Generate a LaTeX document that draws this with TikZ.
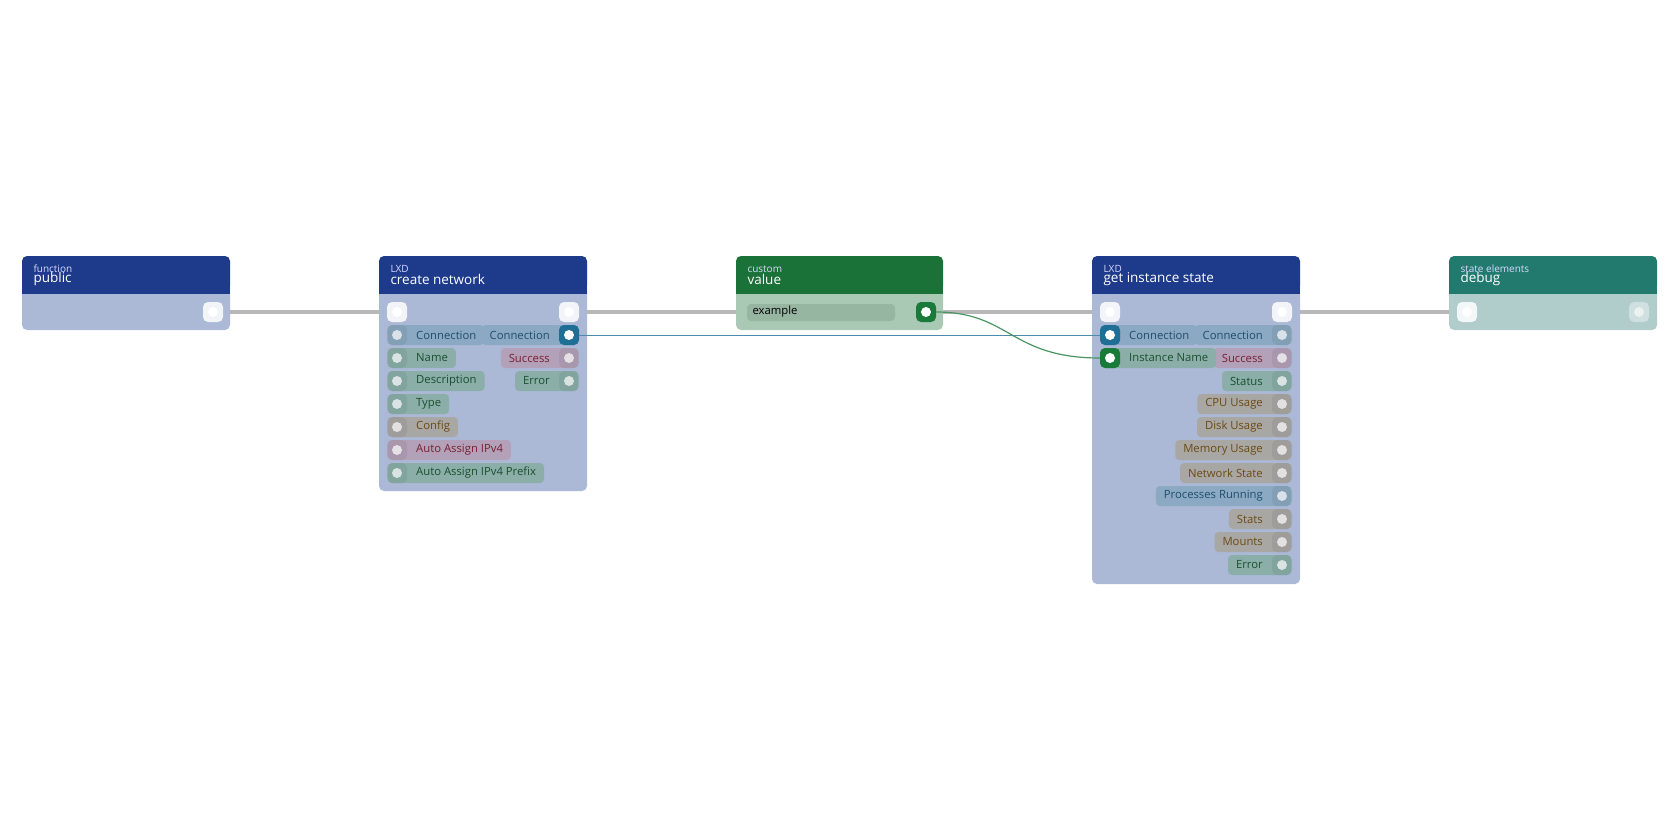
\documentclass[tikz,border=0pt]{standalone}
\usepackage{fontspec}
\setmainfont{Open Sans}
\usetikzlibrary{backgrounds}
\begin{document}
\begin{tikzpicture}[x=1pt,y=-1pt,
  pill/.style={rounded corners=4pt,minimum height=20pt,inner ysep=0pt,inner xsep=0pt,font=\fontsize{11.3}{13}\selectfont},
  port/.style={circle,fill=white,fill opacity=0.7,minimum size=10pt,inner sep=0pt},
  pbox/.style={rounded corners=5pt,minimum size=20pt,inner sep=0pt},
  wire/.style={line width=3.5pt,draw=black!28},
  ttl/.style={anchor=west,text=white,font=\fontsize{13.5}{14}\selectfont},
  sub/.style={anchor=west,text=white!85!blue,font=\fontsize{10}{11}\selectfont}]
\useasboundingbox (0,0) rectangle (1680,840);
\definecolor{hb}{HTML}{1E3A8A}\definecolor{bb}{HTML}{ABB9D6}
\definecolor{hg}{HTML}{1B7239}\definecolor{bg}{HTML}{A9C9B5}
\definecolor{ht}{HTML}{227A6F}\definecolor{bt}{HTML}{B0CCCB}
\definecolor{pB}{HTML}{8BA9C2}\definecolor{tB}{HTML}{1F4E6E}
\definecolor{pG}{HTML}{8BAFA8}\definecolor{tG}{HTML}{1B4E2F}
\definecolor{pR}{HTML}{B3A1B9}\definecolor{tR}{HTML}{7A1F2E}
\definecolor{pN}{HTML}{A9A7A4}\definecolor{tN}{HTML}{6B4A12}
\definecolor{cB}{HTML}{1F6E96}\definecolor{cG}{HTML}{1A7A3A}
\definecolor{ex}{HTML}{97B6A2}
\newcommand\nbox[5]{%
  \fill[#5,rounded corners=5pt] (#1,280) rectangle (#2,#3);
  \fill[#4,rounded corners=5pt] (#1,256) rectangle (#2,290);
  \fill[#4] (#1,280) rectangle (#2,294);}
\newcommand\inp[5]{%
  \node[pill,fill=#4,text=#5,anchor=west] at (#1-9,#2) {\kern28pt#3\kern8pt};
  \node[pbox,fill=#4!85!black,fill opacity=.4] at (#1,#2) {};
  \node[port] at (#1,#2) {};}
\newcommand\outp[5]{%
  \node[pill,fill=#4,text=#5,anchor=east] at (#1+9,#2) {\kern8pt#3\kern28pt};
  \node[pbox,fill=#4!85!black,fill opacity=.4] at (#1,#2) {};
  \node[port] at (#1,#2) {};}
% public
\nbox{22}{230}{330}{hb}{bb}
\node[sub] at (30,269) {function}; \node[ttl] at (30,279) {public};
\node[pbox,fill=white!85!bb] (p1) at (213,312) {}; \node[port,fill opacity=1] at (213,312) {};
% create network
\nbox{379}{587}{491}{hb}{bb}
\node[sub] at (387,269) {LXD}; \node[ttl] at (387,279) {create network};
\node[pbox,fill=white!85!bb] (c1) at (397,312) {}; \node[port,fill opacity=1] at (397,312) {};
\node[pbox,fill=white!85!bb] (c2) at (569,312) {}; \node[port,fill opacity=1] at (569,312) {};
\inp{397}{335}{Connection}{pB}{tB}
\outp{569}{335}{Connection}{pB}{tB}
\node[pbox,fill=cB] (cc) at (569,335) {}; \node[port,fill opacity=1] at (569,335) {};
\inp{397}{358}{Name}{pG}{tG}
\inp{397}{381}{Description}{pG}{tG}
\inp{397}{404}{Type}{pG}{tG}
\inp{397}{427}{Config}{pN}{tN}
\inp{397}{450}{Auto Assign IPv4}{pR}{tR}
\inp{397}{473}{Auto Assign IPv4 Prefix}{pG}{tG}
\outp{569}{358}{Success}{pR}{tR}
\outp{569}{381}{Error}{pG}{tG}
% value
\nbox{736}{943}{330}{hg}{bg}
\node[sub] at (744,269) {custom}; \node[ttl] at (744,279) {value};
\fill[ex,rounded corners=4pt] (747,304) rectangle (895,321);
\node[anchor=west,font=\fontsize{11.3}{13}\selectfont] at (749,312) {example};
\node[pbox,fill=cG] (v1) at (926,312) {}; \node[port,fill opacity=1] at (926,312) {};
% get instance state
\nbox{1092}{1300}{584}{hb}{bb}
\node[sub] at (1100,269) {LXD}; \node[ttl] at (1100,279) {get instance state};
\node[pbox,fill=white!85!bb] (g1) at (1110,312) {}; \node[port,fill opacity=1] at (1110,312) {};
\node[pbox,fill=white!85!bb] (g2) at (1282,312) {}; \node[port,fill opacity=1] at (1282,312) {};
\outp{1282}{335}{Connection}{pB}{tB}
\outp{1282}{358}{Success}{pR}{tR}
\outp{1282}{381}{Status}{pG}{tG}
\outp{1282}{404}{CPU Usage}{pN}{tN}
\outp{1282}{427}{Disk Usage}{pN}{tN}
\outp{1282}{450}{Memory Usage}{pN}{tN}
\outp{1282}{473}{Network State}{pN}{tN}
\outp{1282}{496}{Processes Running}{pB}{tB}
\outp{1282}{519}{Stats}{pN}{tN}
\outp{1282}{542}{Mounts}{pN}{tN}
\outp{1282}{565}{Error}{pG}{tG}
\inp{1110}{335}{Connection}{pB}{tB}
\node[pbox,fill=cB] (gc) at (1110,335) {}; \node[port,fill opacity=1] at (1110,335) {};
\inp{1110}{358}{Instance Name}{pG}{tG}
\node[pbox,fill=cG] (gn) at (1110,358) {}; \node[port,fill opacity=1] at (1110,358) {};
% debug
\nbox{1449}{1657}{330}{ht}{bt}
\node[sub] at (1457,269) {state elements}; \node[ttl] at (1457,279) {debug};
\node[pbox,fill=white!85!bt] (d1) at (1467,312) {}; \node[port,fill opacity=1] at (1467,312) {};
\node[pbox,fill=white!40!bt] (d2) at (1639,312) {}; \node[port,fill opacity=.6] at (1639,312) {};
% wires
\begin{scope}[on background layer]
\draw[wire] (p1.center) -- (c1.center);
\draw[wire] (c2.center) -- (v1.center);
\draw[wire] (v1.center) -- (g1.center);
\draw[wire] (g2.center) -- (d1.center);
\end{scope}
\draw[cB!80!white,line width=1pt] (cc.east) -- (gc.west);
\draw[cG!80!white,line width=1.2pt] (v1.east) .. controls (1010,312) and (1010,358) .. (gn.west);
\end{tikzpicture}
\end{document}
